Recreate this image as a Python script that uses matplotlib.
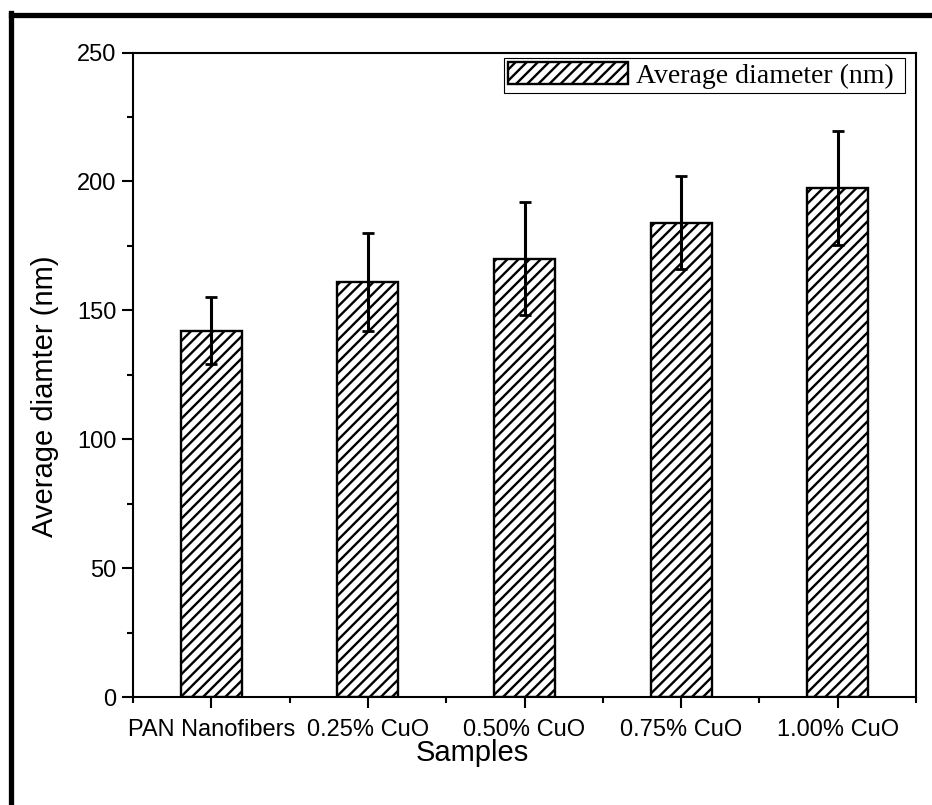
"""Average fibre diameter of PAN / CuO nanofibres."""

import matplotlib

matplotlib.use("Agg")
import matplotlib.pyplot as plt
from matplotlib.lines import Line2D
from matplotlib.ticker import FixedLocator, MultipleLocator
import numpy as np

samples = ["PAN Nanofibers", "0.25% CuO", "0.50% CuO", "0.75% CuO", "1.00% CuO"]
diameter = [142, 161, 170, 184, 197.5]
diameter_err = [13, 19, 22, 18, 22]

plt.rcParams["font.family"] = ["Liberation Sans", "DejaVu Sans"]
plt.rcParams["hatch.linewidth"] = 1.7


def main() -> None:
    fig = plt.figure(figsize=(9.32, 8.05), dpi=100)
    ax = fig.add_axes([133 / 932, 108 / 805, 783 / 932, 644.5 / 805])

    x = np.arange(1, len(samples) + 1)
    ax.bar(
        x,
        diameter,
        width=0.39,
        facecolor="white",
        edgecolor="black",
        linewidth=1.7,
        hatch="///",
        label="Average diameter (nm) ",
        zorder=2,
    )
    ax.errorbar(
        x,
        diameter,
        yerr=diameter_err,
        fmt="none",
        ecolor="black",
        elinewidth=2.2,
        capsize=4.5,
        capthick=2.0,
        zorder=3,
    )

    ax.set_xlim(0.5, len(samples) + 0.5)
    ax.set_ylim(0, 250)
    ax.set_xticks(x)
    ax.set_xticklabels(samples)
    ax.xaxis.set_minor_locator(FixedLocator(np.arange(0.5, len(samples) + 1, 1.0)))
    ax.yaxis.set_major_locator(MultipleLocator(50))
    ax.yaxis.set_minor_locator(MultipleLocator(25))

    ax.tick_params(axis="both", which="major", direction="out", length=8, width=1.5, labelsize=17, pad=4)
    ax.tick_params(axis="both", which="minor", direction="out", length=4, width=1.5)
    ax.tick_params(axis="x", which="major", pad=8)
    for spine in ax.spines.values():
        spine.set_linewidth(1.5)

    ax.set_xlabel("Samples", fontsize=21, labelpad=0)
    ax.xaxis.set_label_coords((472 - 133) / 783, -(753 - 697) / 644.5)
    ax.set_ylabel("Average diamter (nm)", fontsize=21)
    ax.yaxis.set_label_coords(-(133 - 45) / 783, (697 - 396) / 644.5)
    ax.xaxis.label.set_verticalalignment("center")
    ax.yaxis.label.set_verticalalignment("center")

    ax.legend(
        loc="upper right",
        bbox_to_anchor=(1 - 11 / 783, 1 - 5.5 / 644.5),
        borderaxespad=0,
        prop={"family": "Liberation Serif", "size": 20},
        frameon=True,
        fancybox=False,
        edgecolor="black",
        framealpha=1,
        borderpad=0.15,
        handlelength=4.3,
        handleheight=0.85,
        handletextpad=0.3,
    ).get_frame().set_linewidth(0.8)

    # thick outer frame (top and left, right/bottom cut off)
    fig.add_artist(Line2D([10.5 / 932, 1.0], [1 - 15.5 / 805] * 2, color="black", linewidth=3.8,
                          transform=fig.transFigure))
    fig.add_artist(Line2D([10.5 / 932] * 2, [0.0, 1 - 13 / 805], color="black", linewidth=3.8,
                          transform=fig.transFigure))

    fig.savefig("out.png", dpi=100)
    plt.close(fig)


if __name__ == "__main__":
    main()
